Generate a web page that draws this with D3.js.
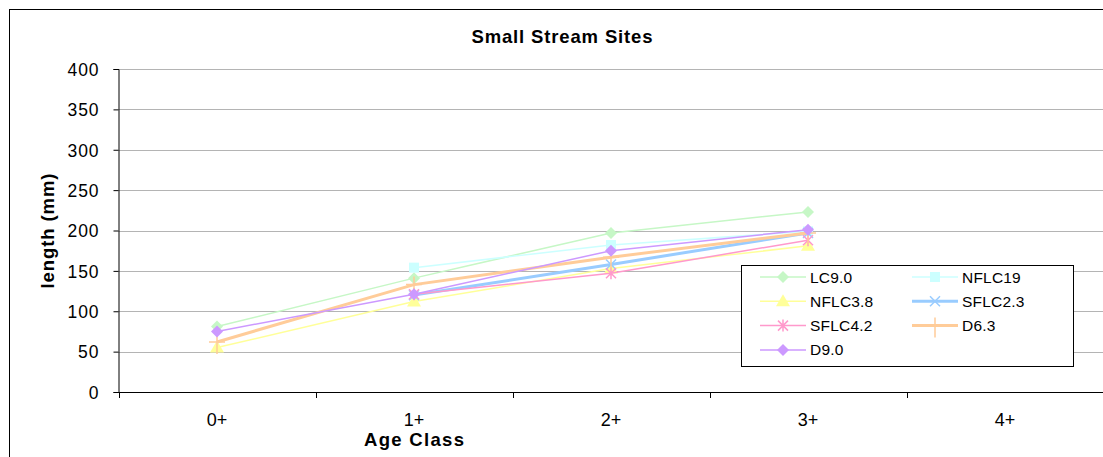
<!DOCTYPE html>
<html><head><meta charset="utf-8">
<script src="https://cdn.jsdelivr.net/npm/d3@7"></script>
<style>
html,body{margin:0;padding:0;background:#fff;}
svg{display:block;font-family:"Liberation Sans",Arial,sans-serif;}
</style></head>
<body>
<svg id="c" width="1103" height="457"></svg>
<script>
const categories = ["0+","1+","2+","3+","4+"];
const yTicks = [0,50,100,150,200,250,300,350,400];
const seriesNames = ["LC9.0","NFLC19","NFLC3.8","SFLC2.3","SFLC4.2","D6.3","D9.0"];
const LC90   = [81, 141, 197, 223, null];
const NFLC19 = [null, 154, 182, 199, null];
const NFLC38 = [55, 112, 153, 181, null];
const SFLC23 = [null, 120, 158, 197, null];
const SFLC42 = [null, 121, 147, 188, null];
const D63    = [62, 133, 167, 197, null];
const D90    = [75, 121, 175, 201, null];
const seriesValues = [LC90, NFLC19, NFLC38, SFLC23, SFLC42, D63, D90];
const colors = ["#c6f7c6","#ccffff","#ffff99","#99ccff","#ff99cc","#ffcc99","#cc99ff"];
const widths = [1.5,1.5,1.5,3,1.5,3,1.5];
const markers = ["diamond","square","triangle","x","star","plus","diamond"];

const svg = d3.select("#c");
const L = 118.5, R = 1103.5, T = 69, B = 392;
const x = d3.scalePoint().domain(categories).range([L, R]).padding(0.5);
const y = d3.scaleLinear().domain([0,400]).range([B, T]);

// outer border
svg.append("rect").attr("x",9.5).attr("y",9.5).attr("width",1110).attr("height",460)
  .attr("fill","none").attr("stroke","#000").attr("stroke-width",1);

// gridlines
svg.append("g").selectAll("line").data(yTicks.filter(d=>d>0)).join("line")
  .attr("x1",L).attr("x2",R).attr("y1",d=>Math.round(y(d))+0.5).attr("y2",d=>Math.round(y(d))+0.5)
  .attr("stroke","#b4b4b4").attr("stroke-width",1);

// y axis
const ya = svg.append("g").attr("transform",`translate(${L},0)`)
  .call(d3.axisLeft(y).tickValues(yTicks).tickSize(5).tickPadding(15));
ya.select(".domain").attr("stroke","#000");
ya.selectAll(".tick line").attr("stroke","#000");
ya.selectAll("text").attr("font-size","17.5px").attr("fill","#000").attr("dy","0.36em")
  .attr("font-family","Liberation Sans, Arial, sans-serif")
  .attr("textLength",d=>String(d).length*10.3).attr("lengthAdjust","spacing");

// x axis
const xb = d3.scaleLinear().domain([0,5]).range([L,R]);
const xa = svg.append("g").attr("transform",`translate(0,${B})`);
xa.append("line").attr("x1",L).attr("x2",R).attr("y1",0.5).attr("y2",0.5).attr("stroke","#000");
xa.selectAll("line.tk").data([0,1,2,3,4]).join("line").attr("class","tk")
  .attr("x1",d=>Math.round(xb(d))+0.5).attr("x2",d=>Math.round(xb(d))+0.5)
  .attr("y1",0).attr("y2",6).attr("stroke","#000");
xa.selectAll("text").data(categories).join("text")
  .attr("x",d=>x(d)).attr("y",34).attr("text-anchor","middle")
  .attr("font-size","18px").text(d=>d);

// titles
svg.append("text").attr("x",562).attr("y",43).attr("text-anchor","middle")
  .attr("font-weight","bold").attr("font-size","18.5px")
  .attr("textLength",181).attr("lengthAdjust","spacing").text("Small Stream Sites");
svg.append("text").attr("x",x("1+")).attr("y",446).attr("text-anchor","middle")
  .attr("font-weight","bold").attr("font-size","18.5px")
  .attr("textLength",100).attr("lengthAdjust","spacing").text("Age Class");
svg.append("text").attr("transform","translate(54,231) rotate(-90)").attr("text-anchor","middle")
  .attr("font-weight","bold").attr("font-size","18.5px")
  .attr("textLength",115).attr("lengthAdjust","spacing").text("length (mm)");

function drawMarker(g, type, color, cx, cy){
  const s = 6;
  if(type==="diamond"){
    g.append("path").attr("d",`M${cx},${cy-s}L${cx+s},${cy}L${cx},${cy+s}L${cx-s},${cy}Z`).attr("fill",color);
  } else if(type==="square"){
    g.append("rect").attr("x",cx-5).attr("y",cy-5).attr("width",10).attr("height",10).attr("fill",color);
  } else if(type==="triangle"){
    g.append("path").attr("d",`M${cx},${cy-7}L${cx+7},${cy+5}L${cx-7},${cy+5}Z`).attr("fill",color);
  } else if(type==="x"){
    g.append("path").attr("d",`M${cx-5},${cy-5}L${cx+5},${cy+5}M${cx-5},${cy+5}L${cx+5},${cy-5}`)
      .attr("stroke",color).attr("stroke-width",1.5);
  } else if(type==="star"){
    g.append("path").attr("d",`M${cx-5},${cy-5}L${cx+5},${cy+5}M${cx-5},${cy+5}L${cx+5},${cy-5}M${cx},${cy-6}L${cx},${cy+6}`)
      .attr("stroke",color).attr("stroke-width",1.5);
  } else if(type==="plus"){
    g.append("path").attr("d",`M${cx-8},${cy}L${cx+8},${cy}M${cx},${cy-8}L${cx},${cy+12}`)
      .attr("stroke",color).attr("stroke-width",1.5);
  }
}

const line = d3.line().defined(d=>d.v!=null).x(d=>x(d.c)).y(d=>y(d.v));
const gS = svg.append("g");
seriesValues.forEach((vals,i)=>{
  const data = vals.map((v,j)=>({c:categories[j],v}));
  const g = gS.append("g");
  g.append("path").datum(data).attr("d",line).attr("fill","none")
    .attr("stroke",colors[i]).attr("stroke-width",widths[i]);
  data.filter(d=>d.v!=null).forEach(d=>drawMarker(g,markers[i],colors[i],x(d.c),y(d.v)));
});

// legend
const lg = svg.append("g");
lg.append("rect").attr("x",741.5).attr("y",265.5).attr("width",332).attr("height",101)
  .attr("fill","#fff").attr("stroke","#000").attr("stroke-width",1);
seriesNames.forEach((n,i)=>{
  const col = i%2, row = Math.floor(i/2);
  const lx = col===0 ? 760 : 912;
  const ly = 277 + row*24.3;
  const g = lg.append("g");
  g.append("line").attr("x1",lx).attr("x2",lx+46).attr("y1",ly).attr("y2",ly)
    .attr("stroke",colors[i]).attr("stroke-width",widths[i]);
  drawMarker(g,markers[i],colors[i],lx+23,ly);
  g.append("text").attr("x",lx+50).attr("y",ly+5.5).attr("font-size","15.5px")
    .style("letter-spacing","0.2px").text(n);
});
</script>
</body></html>
